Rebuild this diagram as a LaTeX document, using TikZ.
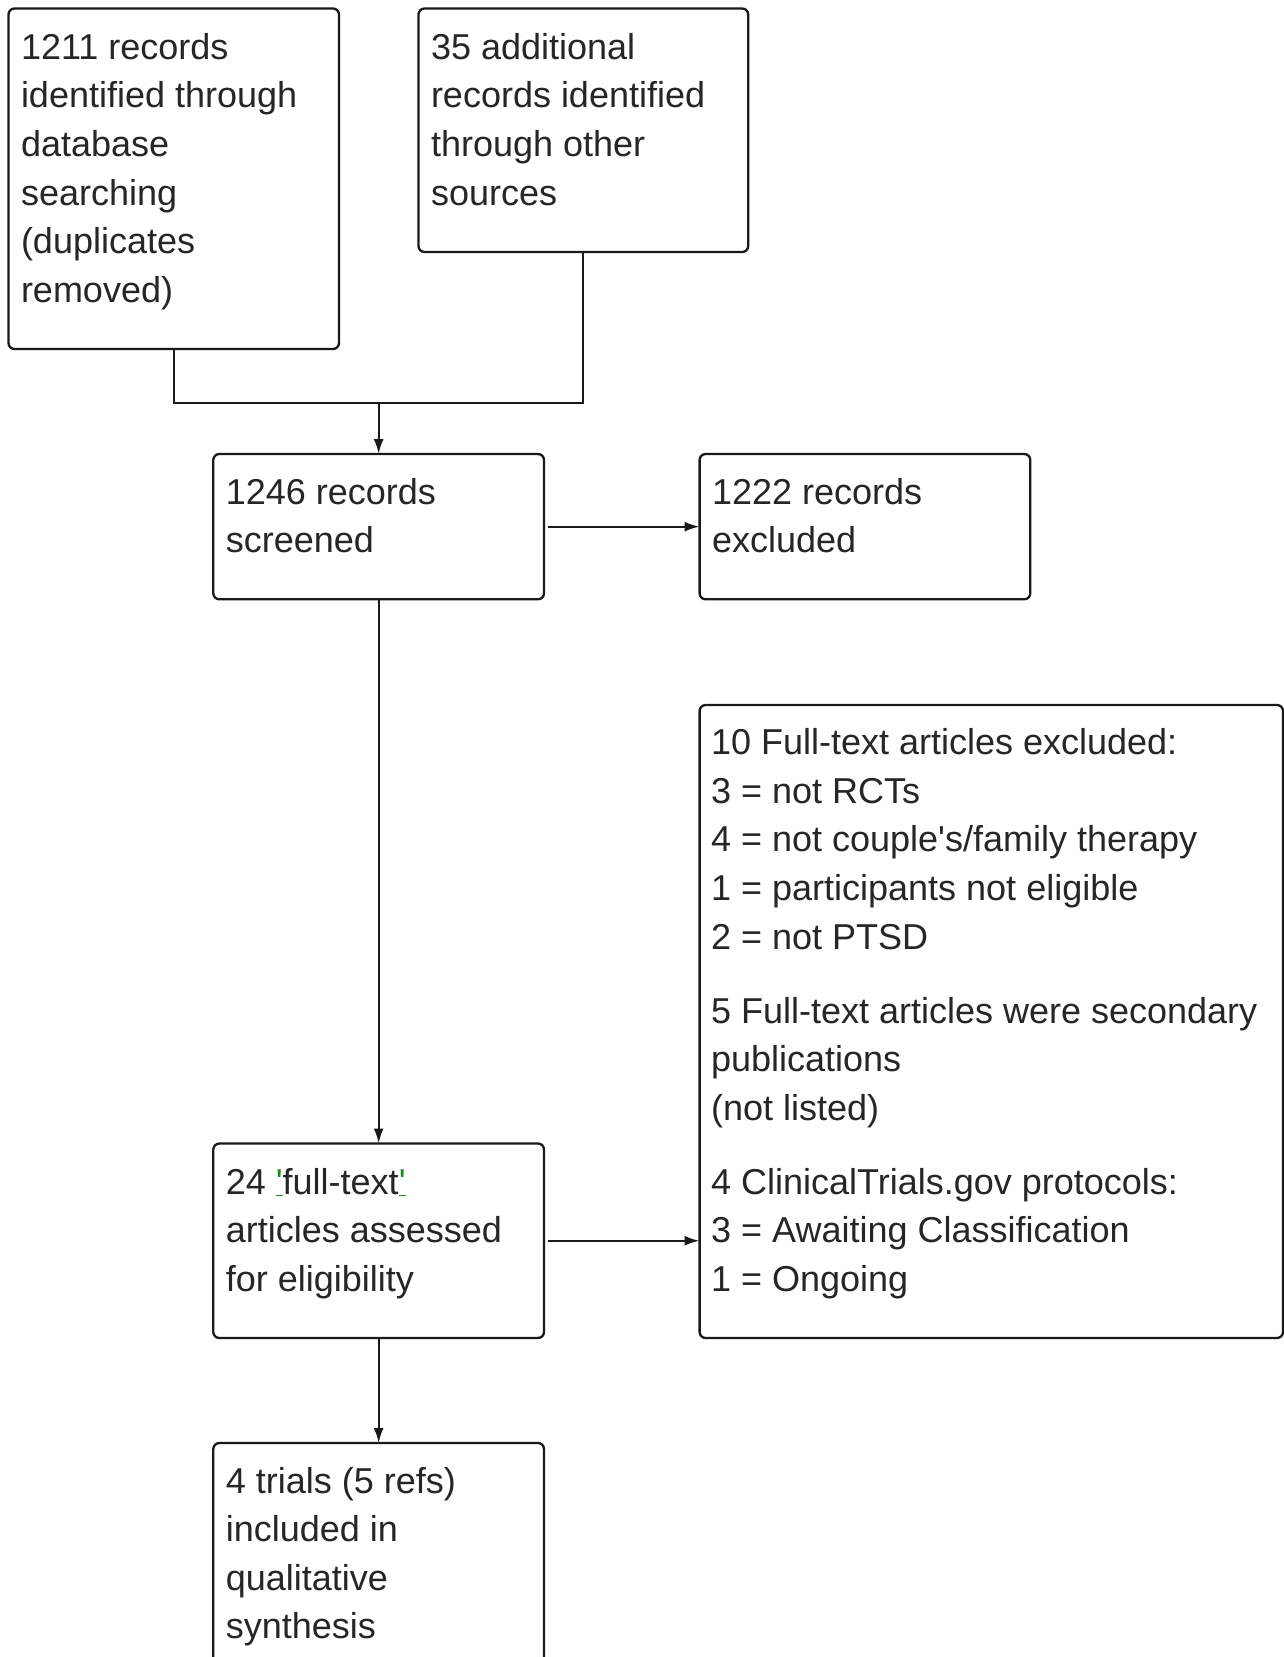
\documentclass[tikz,border=0pt]{standalone}
\usepackage{fontspec}
\setmainfont{Liberation Sans}[Ligatures=TeXOff]
\usetikzlibrary{arrows.meta}
\definecolor{qgreen}{RGB}{30,140,30}
\newcommand\gq{\textcolor{qgreen}{\underline{'}}}
\newcommand\fstrut{\rule{0pt}{30pt}}
\begin{document}
\begin{tikzpicture}[x=1pt,y=-1pt,
  box/.style={draw=black!90, line width=2.3pt, rounded corners=6pt, inner sep=0pt, outer sep=0pt, anchor=north west},
  txt/.style={anchor=north west, inner sep=0pt, outer sep=0pt, align=left, text=black!85, font=\fontsize{36}{48.6}\selectfont},
  conn/.style={draw=black!90, line width=2.2pt},
  arr/.style={conn, -{Latex[length=15pt,width=10pt]}}]
\clip (0,0) rectangle (1284,1657);
\fill[white] (0,0) rectangle (1284,1657);
% boxes
\node[box, minimum width=330.5pt, minimum height=340.5pt] (A) at (8.5,8.5) {};
\node[box, minimum width=329.7pt, minimum height=243.5pt] (B) at (418.5,8.5) {};
\node[box, minimum width=330.7pt, minimum height=145.3pt] (C) at (213.3,454) {};
\node[box, minimum width=330.7pt, minimum height=145.3pt] (D) at (699.6,454) {};
\node[box, minimum width=583.4pt, minimum height=633pt] (E) at (699.6,705) {};
\node[box, minimum width=330.7pt, minimum height=194.5pt] (F) at (213.3,1143.5) {};
\node[box, minimum width=330.7pt, minimum height=260pt] (G) at (213.3,1443) {};
% texts
\node[txt] (tA) at ([shift={(12.5,20.8)}]A.north west) {\fstrut 1211 records\\identified through\\database\\searching\\(duplicates\\removed)};
\node[txt] (tB) at ([shift={(12.5,20.8)}]B.north west) {\fstrut 35 additional\\records identified\\through other\\sources};
\node[txt] (tC) at ([shift={(12.5,20)}]C.north west) {\fstrut 1246 records\\screened};
\node[txt] (tD) at ([shift={(12.5,20)}]D.north west) {\fstrut 1222 records\\excluded};
\node[txt] (tE) at ([shift={(11.5,19.6)}]E.north west) {\fstrut 10 Full-text articles excluded:\\
3 = not RCTs\\
4 = not couple's/family therapy\\
1 = participants not eligible\\
2 = not PTSD\\[25.4pt]
5 Full-text articles were secondary\\
publications\\
(not listed)\\[25.4pt]
4 ClinicalTrials.gov protocols:\\
3 = Awaiting Classification\\
1 = Ongoing};
\node[txt] (tF) at ([shift={(12.5,20.7)}]F.north west) {\fstrut 24 \gq full-text\gq\\articles assessed\\for eligibility};
\node[txt] (tG) at ([shift={(12.5,20)}]G.north west) {\fstrut 4 trials (5 refs)\\included in\\qualitative\\synthesis};
% connectors
\coordinate (jy) at (0,402.7);
\coordinate (j) at (C.north |- jy);
\draw[conn] (A.south) |- (j);
\draw[conn] (B.south) |- (j);
\draw[arr] (j) -- (C.north);
\draw[arr, shorten <=4pt] (C.east) -- (D.west);
\draw[arr] (C.south) -- (F.north);
\draw[arr, shorten <=4pt] (F.east) -- (F.east -| E.west);
\draw[arr] (F.south) -- (G.north);
\end{tikzpicture}
\end{document}
